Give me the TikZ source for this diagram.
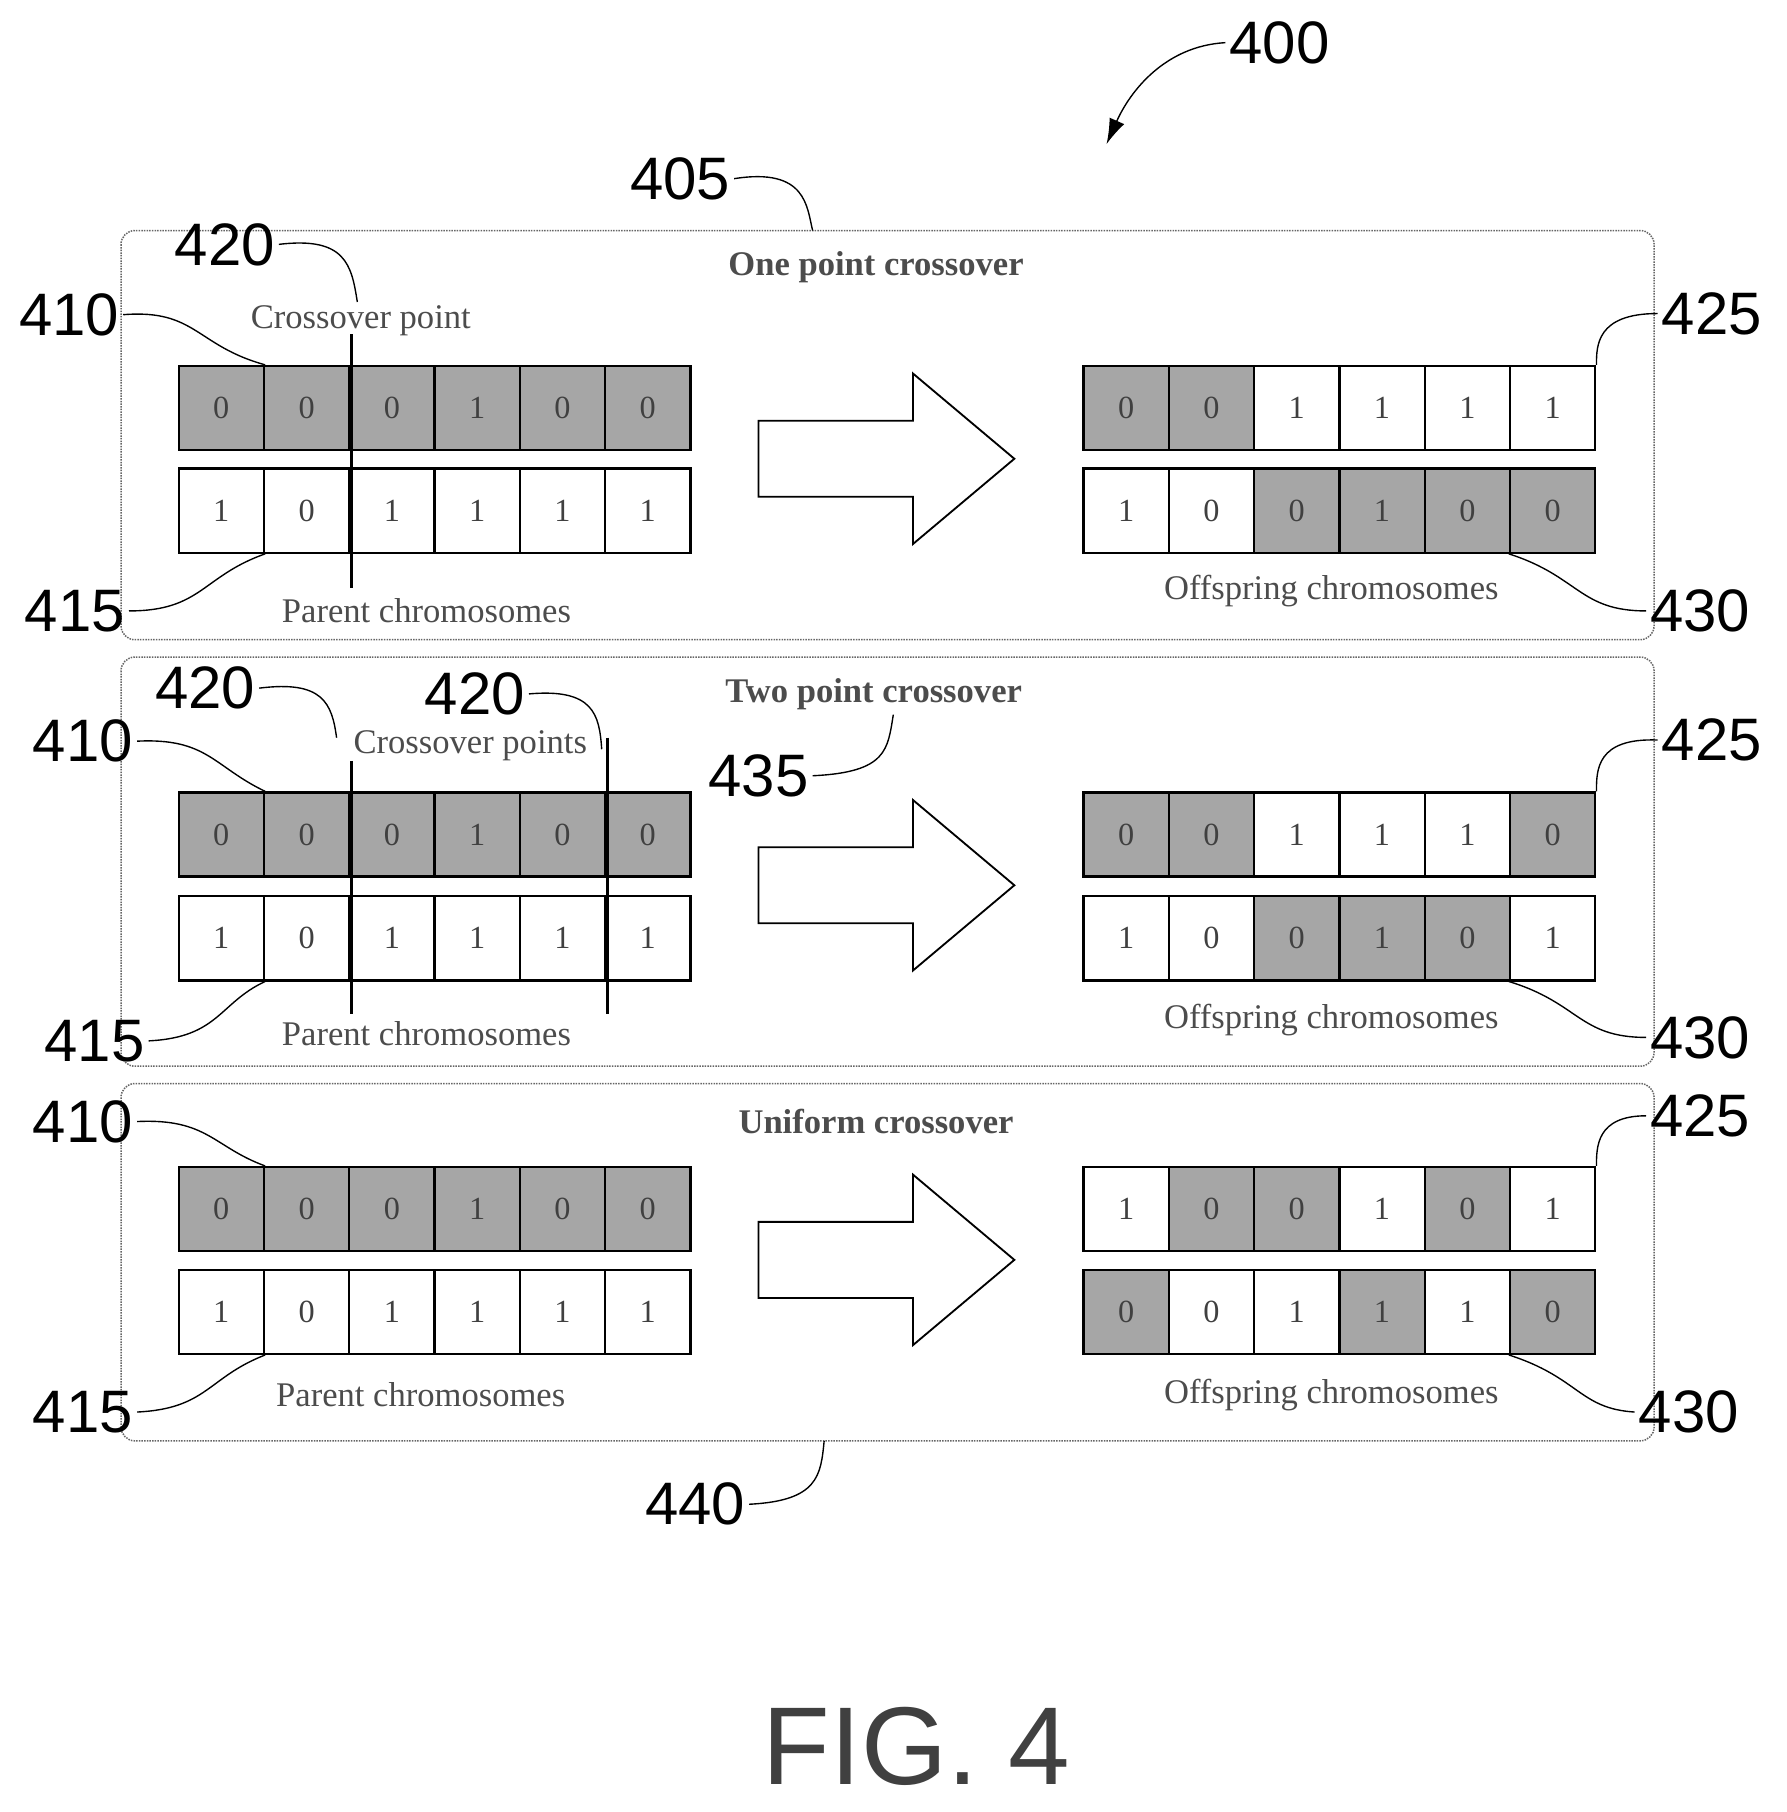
\documentclass[tikz,border=0pt]{standalone}
\usepackage{fontspec}
\usetikzlibrary{arrows.meta}
\setmainfont{Liberation Serif}
\newfontfamily\lab{Liberation Sans}
\begin{document}
\begin{tikzpicture}[x=1pt,y=-1pt,
 cell/.style={draw,line width=2pt,minimum width=74pt,minimum height=73pt,inner sep=0pt,font=\fontsize{28}{30}\selectfont,text=black!75},
 g/.style={fill=black!35},
 w/.style={fill=white},
 panel/.style={draw,densely dotted,line width=1.3pt,rounded corners=12pt,black!60},
 ttl/.style={font=\bfseries\fontsize{30}{32}\selectfont,text=black!70},
 sub/.style={font=\fontsize{30}{32}\selectfont,text=black!70},
 num/.style={font=\lab\fontsize{52}{54}\selectfont},
 lead/.style={line width=1.2pt},
 cut/.style={line width=2.2pt},
 bigarrow/.style={draw,line width=1.6pt,fill=white}]
\useasboundingbox (0,0) rectangle (1550,1572);
\newcommand{\chrom}[4]{% name, x0, ycenter, list
 \foreach \v/\s [count=\i] in {#4}{
   \node[cell,\s] (#1-\i) at ({#2+37+74*(\i-1)},#3) {\v};}}
\newcommand{\barrow}[2]{% name, y tip
 \draw[bigarrow] (658,#2-33) -- (792,#2-33) -- (792,#2-74) -- (880,#2) -- (792,#2+74) -- (792,#2+33) -- (658,#2+33) -- cycle;
 \coordinate (#1) at (880,#2);}
% panels
\draw[panel] (105,200) rectangle (1435,555);
\draw[panel] (105,570) rectangle (1435,925);
\draw[panel] (105,940) rectangle (1435,1250);
\coordinate (p1) at (705,200); \coordinate (p3) at (715,1250);
% panel 1
\node[ttl] (t1) at (760,232) {One point crossover};
\chrom{a}{155}{354}{0/g,0/g,0/g,1/g,0/g,0/g}
\chrom{b}{155}{443}{1/w,0/w,1/w,1/w,1/w,1/w}
\chrom{c}{940}{354}{0/g,0/g,1/w,1/w,1/w,1/w}
\chrom{d}{940}{443}{1/w,0/w,0/g,1/g,0/g,0/g}
\barrow{ar1}{398}
\coordinate (x1t) at (305,290); \coordinate (x1b) at (305,510);
\draw[cut] (x1t) -- (x1b);
\node[sub] (cp1) at (313,278) {Crossover point};
\node[sub] (pc1) at (370,530) {Parent chromosomes};
\node[sub] (oc1) at (1155,513) {Offspring chromosomes};
% panel 2
\node[ttl] (t2) at (758,602) {Two point crossover};
\chrom{e}{155}{724}{0/g,0/g,0/g,1/g,0/g,0/g}
\chrom{f}{155}{814}{1/w,0/w,1/w,1/w,1/w,1/w}
\chrom{h}{940}{724}{0/g,0/g,1/w,1/w,1/w,0/g}
\chrom{k}{940}{814}{1/w,0/w,0/g,1/g,0/g,1/w}
\barrow{ar2}{768}
\coordinate (x2t) at (305,660); \coordinate (x2b) at (305,880);
\coordinate (x3t) at (527,640); \coordinate (x3b) at (527,880);
\draw[cut] (x2t) -- (x2b); \draw[cut] (x3t) -- (x3b);
\node[sub] (cp2) at (408,647) {Crossover points};
\node[sub] (pc2) at (370,897) {Parent chromosomes};
\node[sub] (oc2) at (1155,885) {Offspring chromosomes};
% panel 3
\node[ttl] (t3) at (760,973) {Uniform crossover};
\chrom{m}{155}{1049}{0/g,0/g,0/g,1/g,0/g,0/g}
\chrom{n}{155}{1138}{1/w,0/w,1/w,1/w,1/w,1/w}
\chrom{o}{940}{1049}{1/w,0/g,0/g,1/w,0/g,1/w}
\chrom{q}{940}{1138}{0/g,0/w,1/w,1/g,1/w,0/g}
\barrow{ar3}{1093}
\node[sub] (pc3) at (365,1210) {Parent chromosomes};
\node[sub] (oc3) at (1155,1210) {Offspring chromosomes};
% reference numerals
\node[num] (n400) at (1110,37) {400};
\draw[lead,-{Latex[length=22pt,width=14pt]}] (n400.west) .. controls (1010,40) and (980,80) .. (960,125);
\node[num] (n405) at (590,155) {405};
\draw[lead] (n405.east) .. controls (700,145) and (700,180) .. (p1);
% panel 1 numerals
\node[num] (a410) at (60,273) {410};
\draw[lead] (a410.east) .. controls (170,268) and (170,300) .. (a-1.north east);
\node[num] (a415) at (65,530) {415};
\draw[lead] (a415.east) .. controls (175,530) and (175,500) .. (b-1.south east);
\node[num] (a420) at (195,212) {420};
\draw[lead] (a420.east) .. controls (300,205) and (305,230) .. (310,262);
\node[num] (a425) at (1485,272) {425};
\draw[lead] (a425.west) .. controls (1385,272) and (1385,300) .. (c-6.north east);
\node[num] (a430) at (1475,530) {430};
\draw[lead] (a430.west) .. controls (1370,530) and (1370,500) .. (d-6.south west);
% panel 2 numerals
\node[num] (b410) at (72,643) {410};
\draw[lead] (b410.east) .. controls (180,640) and (185,665) .. (e-1.north east);
\node[num] (b415) at (82,903) {415};
\draw[lead] (b415.east) .. controls (190,900) and (190,870) .. (f-1.south east);
\node[num] (b420) at (178,597) {420};
\draw[lead] (b420.east) .. controls (280,590) and (288,610) .. (292,640);
\node[num] (c420) at (412,602) {420};
\draw[lead] (c420.east) .. controls (515,597) and (520,620) .. (522,650);
\node[num] (b435) at (658,673) {435};
\draw[lead] (b435.east) .. controls (770,670) and (770,650) .. (775,620);
\node[num] (b425) at (1485,642) {425};
\draw[lead] (b425.west) .. controls (1385,640) and (1385,668) .. (h-6.north east);
\node[num] (b430) at (1475,900) {430};
\draw[lead] (b430.west) .. controls (1370,900) and (1370,870) .. (k-6.south west);
% panel 3 numerals
\node[num] (d410) at (72,973) {410};
\draw[lead] (d410.east) .. controls (180,970) and (185,995) .. (m-1.north east);
\node[num] (d415) at (72,1225) {415};
\draw[lead] (d415.east) .. controls (180,1222) and (180,1195) .. (n-1.south east);
\node[num] (d425) at (1475,968) {425};
\draw[lead] (d425.west) .. controls (1385,968) and (1385,995) .. (o-6.north east);
\node[num] (d430) at (1465,1225) {430};
\draw[lead] (d430.west) .. controls (1370,1222) and (1370,1195) .. (q-6.south west);
\node[num] (d440) at (603,1305) {440};
\draw[lead] (d440.east) .. controls (710,1302) and (712,1280) .. (p3);
\node[font=\lab\fontsize{96}{98}\selectfont,text=black!75] (fig) at (795,1515) {FIG. 4};
\end{tikzpicture}
\end{document}
